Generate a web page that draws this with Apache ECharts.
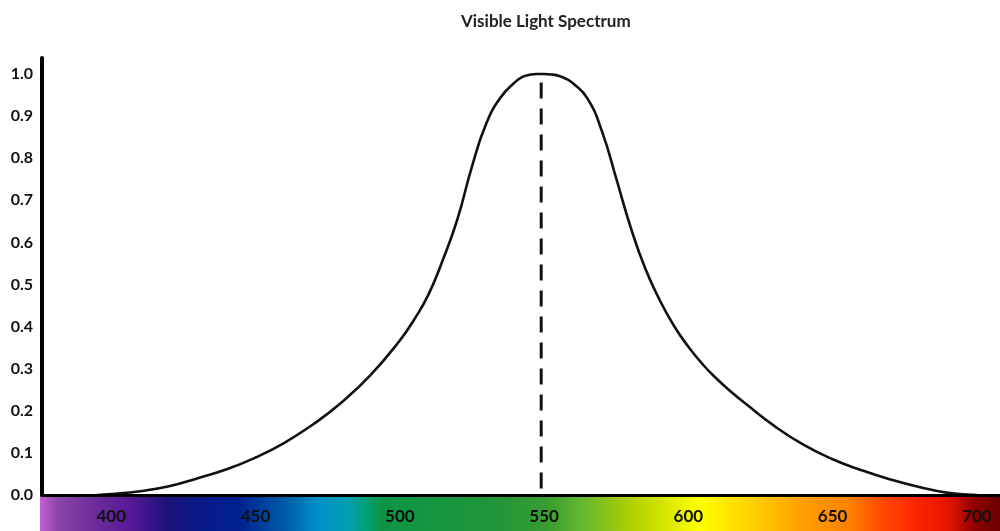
<!DOCTYPE html>
<html>
<head>
<meta charset="utf-8">
<script src="https://cdn.jsdelivr.net/npm/echarts@6/dist/echarts.min.js"></script>
<style>
html,body{margin:0;padding:0;background:#fff;}
#chart{width:1000px;height:531px;}
</style>
</head>
<body>
<div id="chart"></div>
<script>
const titleText = 'Visible Light Spectrum';
// wavelength (nm) and relative sensitivity
const curveNm  = [395, 400, 410, 420, 430, 440, 450, 460, 470, 480, 490, 500, 505, 510, 515, 520, 525, 530, 535, 540, 542.5, 545, 547.5, 550, 552.5, 555, 557.5, 560, 565, 570, 575, 580, 585, 590, 595, 600, 605, 610, 615, 620, 630, 640, 650, 660, 670, 680, 690, 700];
const curveVal = [0.0, 0.002, 0.009, 0.021, 0.040, 0.061, 0.089, 0.124, 0.168, 0.221, 0.286, 0.367, 0.417, 0.477, 0.560, 0.656, 0.780, 0.883, 0.945, 0.981, 0.993, 0.998, 1.0, 1.0, 0.999, 0.996, 0.989, 0.978, 0.942, 0.865, 0.752, 0.636, 0.539, 0.464, 0.402, 0.352, 0.310, 0.275, 0.244, 0.216, 0.163, 0.119, 0.085, 0.059, 0.037, 0.019, 0.005, 0.0];
const peakNm = [549, 549];
const peakVal = [0.98, 0.0];
const xTicks = [400, 450, 500, 550, 600, 650, 700];
const yTicks = [0, 0.1, 0.2, 0.3, 0.4, 0.5, 0.6, 0.7, 0.8, 0.9, 1.0];
const xMin = 376, xMax = 708, yMin = 0, yMax = 1.038;
// colour band under the axis: wavelength -> colour
const spectrumNm  = [375.2, 382.2, 396.0, 406.4, 420.3, 430.7, 444.6, 461.9, 472.3, 482.7, 488.6, 494.1, 534.7, 552.0, 563.5, 580.8, 604.1, 621.4, 638.8, 656.1, 667.6, 679.4, 690.8, 698.8, 708.2];
const spectrumCol = ['#c462d2', '#8a45a8', '#6a2a9a', '#5a1a98', '#1a127a', '#0a1a86', '#002090', '#0060a8', '#0090c8', '#00a0b0', '#00a078', '#0c9444', '#22963a', '#3a9e30', '#64b830', '#b0d000', '#ffff00', '#ffd200', '#ffa200', '#ff8000', '#ff4800', '#ff2400', '#e01400', '#920000', '#6a0000'];

const chart = echarts.init(document.getElementById('chart'));
const stops = spectrumNm.map((nm, i) => ({
  offset: Math.min(1, Math.max(0, (nm - xMin) / (xMax - xMin))),
  color: spectrumCol[i]
}));
const font = 'Lato, "Open Sans", sans-serif';
chart.setOption({
  animation: false,
  backgroundColor: '#fff',
  title: {
    text: titleText, left: 456, top: 8,
    textStyle: { fontFamily: font, fontSize: 17, fontWeight: 'bold', color: '#222' }
  },
  grid: { left: 42, right: 0, top: 58, bottom: 36 },
  graphic: [{
    type: 'rect', z: -10, silent: true,
    shape: { x: 40, y: 496, width: 960, height: 35 },
    style: { fill: new echarts.graphic.LinearGradient(0, 0, 1, 0, stops) }
  }],
  xAxis: {
    type: 'value', min: xMin, max: xMax, z: 10,
    axisLine: { show: true, onZero: false, lineStyle: { color: '#000', width: 3 } },
    axisTick: { show: false },
    splitLine: { show: false },
    axisLabel: {
      customValues: xTicks, margin: 13,
      fontFamily: font, fontSize: 17, fontWeight: 'bold', color: '#111'
    }
  },
  yAxis: {
    type: 'value', min: yMin, max: yMax, z: 10,
    axisLine: { show: true, lineStyle: { color: '#000', width: 4 } },
    axisTick: { show: false },
    splitLine: { show: false },
    axisLabel: {
      customValues: yTicks, margin: 9,
      formatter: v => v.toFixed(1),
      fontFamily: font, fontSize: 16, fontWeight: 'bold', color: '#111'
    }
  },
  series: [
    {
      type: 'line', smooth: 0.5, symbol: 'none',
      data: curveNm.map((x, i) => [x, curveVal[i]]),
      lineStyle: { color: '#111', width: 2.6 }
    },
    {
      type: 'line', symbol: 'none',
      data: peakNm.map((x, i) => [x, peakVal[i]]),
      lineStyle: { color: '#111', width: 3, type: [16, 10] }
    }
  ]
});
</script>
</body>
</html>
